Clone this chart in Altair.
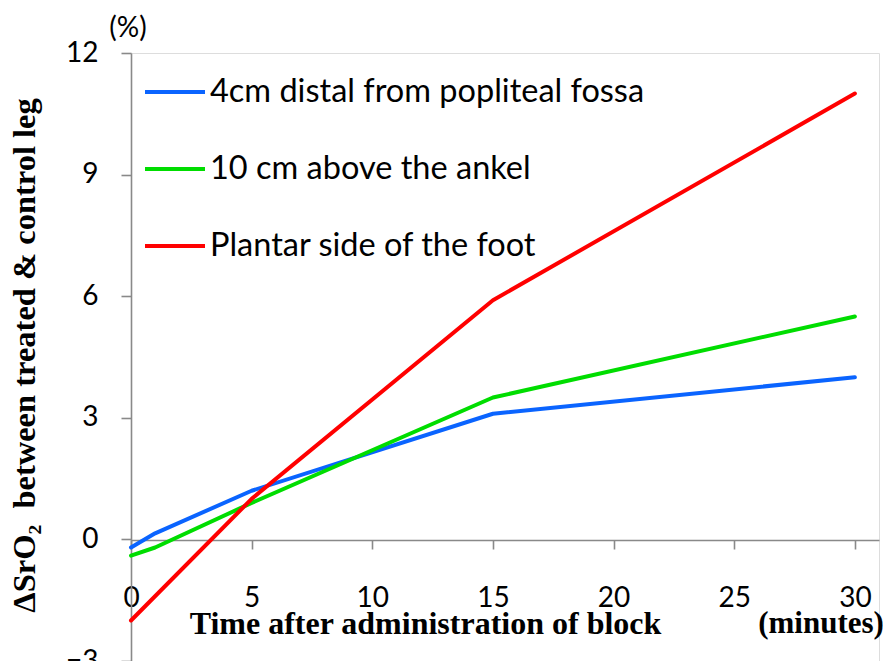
import altair as alt
import pandas as pd

minutes = [0, 1, 5, 15, 30]
series_names = ["4cm distal from popliteal fossa", "10 cm above the ankel", "Plantar side of the foot"]
popliteal = [-0.2, 0.15, 1.2, 3.1, 4.0]
ankle = [-0.4, -0.2, 0.9, 3.5, 5.5]
plantar_minutes = [0, 5, 15, 30]
plantar = [-2.0, 1.0, 5.9, 11.0]
colors = ["#0a64ff", "#00dd00", "#ff0000"]
x_ticks = [0, 5, 10, 15, 20, 25, 30]
y_ticks = [-3, 0, 3, 6, 9, 12]

rows = []
for m, v in zip(minutes, popliteal):
    rows.append({"t": m, "v": v, "s": series_names[0]})
for m, v in zip(minutes, ankle):
    rows.append({"t": m, "v": v, "s": series_names[1]})
for m, v in zip(plantar_minutes, plantar):
    rows.append({"t": m, "v": v, "s": series_names[2]})
df = pd.DataFrame(rows)

AX = "#898989"
LBL = "Lato"
SERIF = "Liberation Serif"

x = alt.X("t:Q",
          scale=alt.Scale(domain=[0, 31], nice=False, zero=False),
          axis=alt.Axis(values=x_ticks, offset=-121, grid=False, format="d",
                        domainColor=AX, domainWidth=1.6, tickColor=AX, tickWidth=1.6, tickSize=9,
                        labelFont=LBL, labelFontSize=28, labelColor="#000", labelBaseline="alphabetic",
                        labelPadding=57, labelFlush=False, labelOverlap=False,
                        title="Time after administration of block",
                        titleFont=SERIF, titleFontSize=32, titleFontWeight="bold", titleColor="#000",
                        titleX=294, titleY=93, titleBaseline="alphabetic", titleAlign="center", titleAnchor="middle"))

y = alt.Y("v:Q",
          scale=alt.Scale(domain=[-3, 12], nice=False, zero=False),
          axis=alt.Axis(values=y_ticks, grid=False,
                        domainColor=AX, domainWidth=1.6, tickColor=AX, tickWidth=1.6, tickSize=10,
                        labelFont=LBL, labelFontSize=28, labelColor="#000", labelPadding=23,
                        labelFlush=False, labelOverlap=False,
                        title="ΔSrO₂\u00a0\u00a0between treated & control leg",
                        titleFont=SERIF, titleFontSize=32.5, titleFontWeight="bold", titleColor="#000",
                        titleAngle=270, titleX=-97, titleY=302, titleBaseline="alphabetic",
                        titleAlign="center", titleAnchor="middle"))

color = alt.Color("s:N",
                  scale=alt.Scale(domain=series_names, range=colors),
                  legend=alt.Legend(title=None, orient="none", legendX=12, legendY=7, padding=0,
                                    symbolType="stroke", symbolSize=3600, symbolStrokeWidth=4,
                                    labelFont=LBL, labelFontSize=32.5, labelColor="#000",
                                    labelOffset=3, rowPadding=28, labelLimit=700))

lines = alt.Chart(df).mark_line(strokeWidth=4, strokeCap="round", strokeJoin="round").encode(
    x=x, y=y, color=color, order="t:Q", detail="s:N")

pct = alt.Chart(pd.DataFrame({"txt": ["(%)"]})).mark_text(
    font=LBL, fontSize=28, color="#000", baseline="alphabetic", align="center"
).encode(x=alt.value(-3), y=alt.value(-16), text="txt:N")

mins = alt.Chart(pd.DataFrame({"txt": ["(minutes)"]})).mark_text(
    font=SERIF, fontSize=31, fontWeight="bold", color="#000", baseline="alphabetic", align="center"
).encode(x=alt.value(690), y=alt.value(580), text="txt:N")

chart = alt.layer(lines, pct, mins).properties(
    width=748, height=608,
    padding={"left": 123, "top": 45, "right": 4, "bottom": 0},
    autosize=alt.AutoSizeParams(type="none"),
).configure_view(stroke=None).configure(background="white")

chart.save("out.html", embed_options={"renderer": "svg", "actions": False})
